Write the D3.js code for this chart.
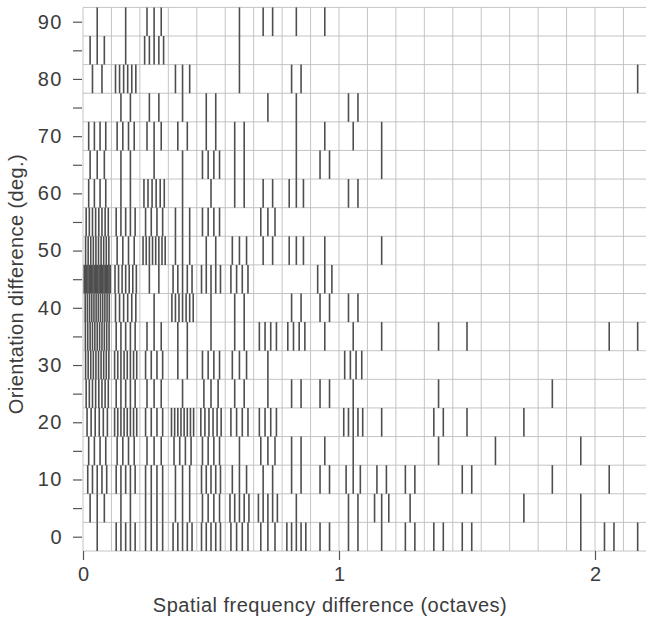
<!DOCTYPE html>
<html><head><meta charset="utf-8">
<script src="https://cdn.jsdelivr.net/npm/d3@7"></script>
<style>body{margin:0;background:#fff}svg{display:block}</style>
</head><body><svg id="c" width="646" height="618"></svg>
<script>
// Orientation difference rows (deg.), top to bottom
const orientations = [90,85,80,75,70,65,60,55,50,45,40,35,30,25,20,15,10,5,0];
// Spatial frequency bins: width 1/9 octave, starting at 0
const binWidth = 1/9;
const binCount = 20;
// Number of cell pairs in each bin (one vertical stroke per pair)
const r90 = [1,1,3,0,0,1,2,1,1,0,0,0,0,0,0,0,0,0,0,0];
const r85 = [3,1,5,0,0,1,0,0,0,0,0,0,0,0,0,0,0,0,0,0];
const r80 = [2,6,0,3,0,1,0,2,0,0,0,0,0,0,0,0,0,0,0,1];
const r75 = [0,2,2,1,2,0,1,1,0,2,0,0,0,0,0,0,0,0,0,0];
const r70 = [4,4,3,2,2,2,0,1,1,1,1,0,0,0,0,0,0,0,0,0];
const r65 = [3,2,1,1,4,2,0,1,2,0,1,0,0,0,0,0,0,0,0,0];
const r60 = [4,2,6,1,1,2,2,3,0,2,0,0,0,0,0,0,0,0,0,0];
const r55 = [8,5,4,3,4,0,3,0,0,0,0,0,0,0,0,0,0,0,0,0];
const r50 = [10,4,8,3,2,3,2,3,1,0,1,0,0,0,0,0,0,0,0,0];
const r45 = [22,7,2,5,5,4,0,0,3,0,0,0,0,0,0,0,0,0,0,0];
const r40 = [12,6,1,7,1,2,0,2,2,2,0,0,0,0,0,0,0,0,0,0];
const r35 = [11,5,3,2,1,2,4,4,1,1,1,0,1,1,0,0,0,0,1,1];
const r30 = [10,8,4,2,4,3,1,0,0,4,0,0,0,0,0,0,0,0,0,0];
const r25 = [8,5,3,1,3,2,1,2,2,1,0,0,1,0,0,0,1,0,0,0];
const r20 = [6,8,4,8,6,4,4,0,0,5,1,0,2,1,0,1,0,0,0,0];
const r15 = [4,4,3,4,4,1,3,2,1,1,0,0,1,0,1,0,0,1,0,0];
const r10 = [5,5,4,3,5,3,2,2,2,3,2,2,0,2,0,0,1,0,1,0];
const r5  = [3,2,4,3,4,5,5,1,0,2,3,1,0,0,0,1,0,1,0,0];
const r0  = [1,5,4,5,5,4,3,5,2,2,1,2,2,2,0,0,0,1,2,1];
const rows = [r90,r85,r80,r75,r70,r65,r60,r55,r50,r45,r40,r35,r30,r25,r20,r15,r10,r5,r0];

const xTickValues = [0,1,2];
const yTickValues = [0,5,10,15,20,25,30,35,40,45,50,55,60,65,70,75,80,85,90];
const yTickLabels = [0,10,20,30,40,50,60,70,80,90];
const xTitle = "Spatial frequency difference (octaves)";
const yTitle = "Orientation difference (deg.)";

const svg = d3.select("#c");
const x = d3.scaleLinear().domain([0, 2]).range([83, 595]);
const y = d3.scaleLinear().domain([0, 90]).range([536.7, 21.7]);
const half = 2.5;
const font = "'Liberation Sans', Arial, Helvetica, sans-serif";
const textColor = "#3c3c3c";

const gGrid = svg.append("g").attr("stroke", "#bdbdbd").attr("stroke-width", 0.9);
const binEdges = d3.range(binCount + 1).map(k => k * binWidth);
gGrid.selectAll("line.v").data(binEdges).join("line")
  .attr("x1", d => x(d)).attr("x2", d => x(d))
  .attr("y1", y(90 + half)).attr("y2", y(0 - half));
const rowEdges = d3.range(orientations.length + 1).map(j => -half + 5 * j);
gGrid.selectAll("line.h").data(rowEdges).join("line")
  .attr("x1", x(0)).attr("x2", 646)
  .attr("y1", d => y(d)).attr("y2", d => y(d));

// strokes
const strokes = [];
orientations.forEach((o, ri) => {
  rows[ri].forEach((n, bi) => {
    const lo = bi * binWidth;
    for (let i = 0; i < n; i++) {
      strokes.push({o, v: lo + binWidth * (i + 1) / (n + 1)});
    }
  });
});
svg.append("g").attr("stroke", "#4e4e4e").attr("stroke-width", 1.6)
  .selectAll("line").data(strokes).join("line")
  .attr("x1", d => x(d.v)).attr("x2", d => x(d.v))
  .attr("y1", d => y(d.o + half)).attr("y2", d => y(d.o - half));

// axes
const yAxis = d3.axisLeft(y).tickValues(yTickValues).tickSize(9).tickPadding(10)
  .tickFormat(d => yTickLabels.includes(d) ? d : "");
const gy = svg.append("g").attr("transform", "translate(82,0)").call(yAxis);
gy.select(".domain").remove();
gy.selectAll("line").attr("stroke", "#555").attr("stroke-width", 1.2);
gy.selectAll("text").attr("font-family", font).attr("font-size", 20)
  .attr("letter-spacing", 1.5).attr("fill", textColor);

const xAxis = d3.axisBottom(x).tickValues(xTickValues).tickSize(9).tickPadding(7)
  .tickFormat(d3.format("d"));
const gx = svg.append("g").attr("transform", `translate(0,${y(-half)})`).call(xAxis);
gx.select(".domain").remove();
gx.selectAll("line").attr("stroke", "#555").attr("stroke-width", 1.2);
gx.selectAll("text").attr("font-family", font).attr("font-size", 20).attr("fill", textColor);

svg.append("text").attr("x", 330).attr("y", 612).attr("text-anchor", "middle")
  .attr("font-family", font).attr("font-size", 20).attr("letter-spacing", 0.5)
  .attr("fill", textColor).text(xTitle);
svg.append("text").attr("transform", "translate(23,284) rotate(-90)").attr("text-anchor", "middle")
  .attr("font-family", font).attr("font-size", 20).attr("letter-spacing", 0.4)
  .attr("fill", textColor).text(yTitle);
</script></body></html>
